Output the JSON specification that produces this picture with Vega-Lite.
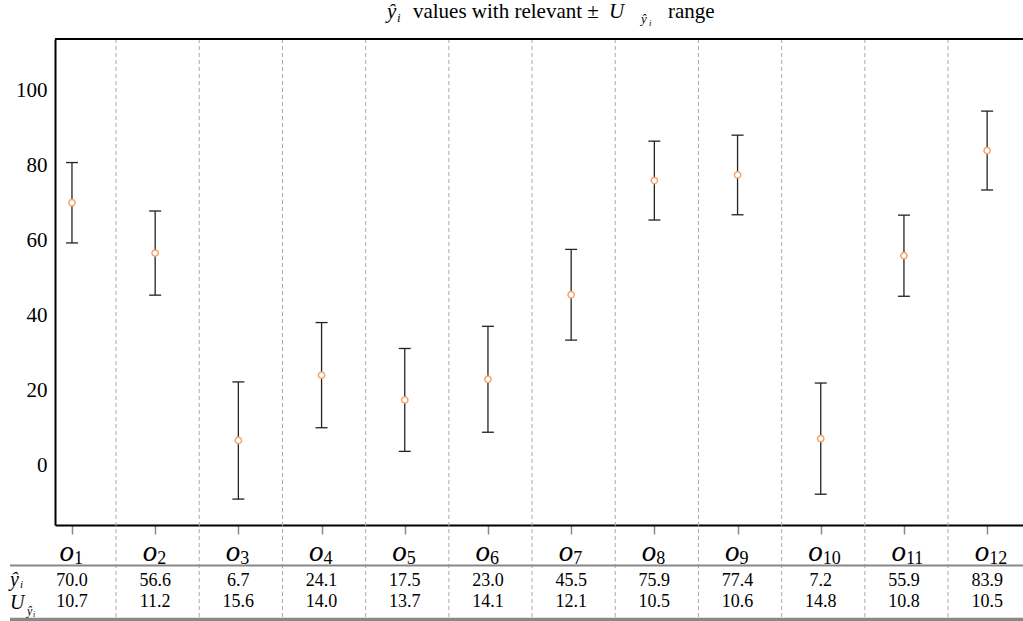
{
  "$schema": "https://vega.github.io/schema/vega-lite/v6.json",
  "width": 968,
  "height": 486,
  "autosize": {"type": "none"},
  "padding": {"left": 55, "top": 39, "right": 0, "bottom": 96},
  "background": "white",
  "config": {
    "view": {"stroke": null},
    "font": "Liberation Serif",
    "text": {"font": "Liberation Serif", "color": "black", "clip": false}
  },
  "data": {
    "values": [
      {"i": 1, "yhat": 70.0, "U": 10.7, "lo": 59.3, "hi": 80.7},
      {"i": 2, "yhat": 56.6, "U": 11.2, "lo": 45.4, "hi": 67.8},
      {"i": 3, "yhat": 6.7, "U": 15.6, "lo": -8.9, "hi": 22.3},
      {"i": 4, "yhat": 24.1, "U": 14.0, "lo": 10.1, "hi": 38.1},
      {"i": 5, "yhat": 17.5, "U": 13.7, "lo": 3.8, "hi": 31.2},
      {"i": 6, "yhat": 23.0, "U": 14.1, "lo": 8.9, "hi": 37.1},
      {"i": 7, "yhat": 45.5, "U": 12.1, "lo": 33.4, "hi": 57.6},
      {"i": 8, "yhat": 75.9, "U": 10.5, "lo": 65.4, "hi": 86.4},
      {"i": 9, "yhat": 77.4, "U": 10.6, "lo": 66.8, "hi": 88.0},
      {"i": 10, "yhat": 7.2, "U": 14.8, "lo": -7.6, "hi": 22.0},
      {"i": 11, "yhat": 55.9, "U": 10.8, "lo": 45.1, "hi": 66.7},
      {"i": 12, "yhat": 83.9, "U": 10.5, "lo": 73.4, "hi": 94.4}
    ]
  },
  "layer": [
    {
      "data": {"values": [{"b": 1.53}, {"b": 2.53}, {"b": 3.53}, {"b": 4.53}, {"b": 5.53}, {"b": 6.53}, {"b": 7.53}, {"b": 8.53}, {"b": 9.53}, {"b": 10.53}, {"b": 11.53}]},
      "mark": {"type": "rule", "color": "#aaaaaa", "strokeWidth": 1, "strokeDash": [4, 3], "clip": false},
      "encoding": {
        "x": {"field": "b", "type": "quantitative",
          "scale": {"domain": [0.796, 12.431], "nice": false, "zero": false},
          "axis": {"values": [1,2,3,4,5,6,7,8,9,10,11,12], "labels": false, "title": null, "grid": false,
            "domainColor": "black", "domainWidth": 2, "tickColor": "#888888", "tickSize": 9, "tickWidth": 1.5}},
        "y": {"datum": 113.6, "type": "quantitative",
          "scale": {"domain": [-15.8, 113.6], "nice": false, "zero": false},
          "axis": {"values": [0, 20, 40, 60, 80, 100], "title": null, "ticks": false, "labelFontSize": 21,
            "labelFont": "Liberation Serif", "labelColor": "black", "labelPadding": 8,
            "gridColor": "#dddddd", "gridWidth": 1, "domainColor": "black", "domainWidth": 2}},
        "y2": {"datum": -40.8}
      }
    },
    {
      "data": {"values": [{}]},
      "mark": {"type": "rule", "color": "black", "strokeWidth": 2, "clip": false},
      "encoding": {"y": {"datum": 113.6, "type": "quantitative"}}
    },
    {
      "data": {"values": [{}]},
      "mark": {"type": "rule", "color": "#888888", "strokeWidth": 2, "clip": false},
      "encoding": {"x": {"datum": 0.255, "type": "quantitative"}, "x2": {"datum": 12.431}, "y": {"datum": -26.6, "type": "quantitative"}}
    },
    {
      "data": {"values": [{}]},
      "mark": {"type": "rule", "color": "#888888", "strokeWidth": 4, "clip": false},
      "encoding": {"x": {"datum": 0.255, "type": "quantitative"}, "x2": {"datum": 12.431}, "y": {"datum": -41.0, "type": "quantitative"}}
    },
    {
      "mark": {"type": "rule", "color": "#222222", "strokeWidth": 1.3},
      "encoding": {
        "x": {"field": "i", "type": "quantitative"},
        "y": {"field": "lo", "type": "quantitative"},
        "y2": {"field": "hi"}
      }
    },
    {
      "mark": {"type": "tick", "color": "#222222", "orient": "horizontal", "size": 12, "thickness": 1.3, "opacity": 1},
      "encoding": {
        "x": {"field": "i", "type": "quantitative"},
        "y": {"field": "lo", "type": "quantitative"}
      }
    },
    {
      "mark": {"type": "tick", "color": "#222222", "orient": "horizontal", "size": 12, "thickness": 1.3, "opacity": 1},
      "encoding": {
        "x": {"field": "i", "type": "quantitative"},
        "y": {"field": "hi", "type": "quantitative"}
      }
    },
    {
      "mark": {"type": "point", "shape": "circle", "filled": false, "fill": "white", "fillOpacity": 1, "stroke": "#f4a46c", "strokeWidth": 1.5, "size": 40, "opacity": 1},
      "encoding": {
        "x": {"field": "i", "type": "quantitative"},
        "y": {"field": "yhat", "type": "quantitative"}
      }
    },
    {
      "mark": {"type": "text", "text": "o", "fontStyle": "italic", "fontWeight": "normal", "fontSize": 29, "align": "right", "baseline": "alphabetic", "dx": 2, "clip": false},
      "encoding": {
        "x": {"field": "i", "type": "quantitative"},
        "y": {"datum": -25.4, "type": "quantitative"}
      }
    },
    {
      "mark": {"type": "text", "fontSize": 18, "fontWeight": "normal", "align": "left", "baseline": "alphabetic", "dx": 2, "dy": 3, "clip": false},
      "encoding": {
        "x": {"field": "i", "type": "quantitative"},
        "y": {"datum": -25.4, "type": "quantitative"},
        "text": {"field": "i", "type": "nominal"}
      }
    },
    {
      "mark": {"type": "text", "fontSize": 18, "align": "center", "baseline": "middle", "clip": false},
      "encoding": {
        "x": {"field": "i", "type": "quantitative"},
        "y": {"datum": -30.7, "type": "quantitative"},
        "text": {"field": "yhat", "type": "quantitative", "format": ".1f"}
      }
    },
    {
      "mark": {"type": "text", "fontSize": 18, "align": "center", "baseline": "middle", "clip": false},
      "encoding": {
        "x": {"field": "i", "type": "quantitative"},
        "y": {"datum": -36.4, "type": "quantitative"},
        "text": {"field": "U", "type": "quantitative", "format": ".1f"}
      }
    },
    {
      "data": {"values": [{}]},
      "mark": {"type": "text", "text": "ŷ", "fontStyle": "italic", "fontSize": 20, "align": "left", "baseline": "alphabetic", "dy": 5, "clip": false},
      "encoding": {"x": {"datum": 0.255, "type": "quantitative"}, "y": {"datum": -30.7, "type": "quantitative"}}
    },
    {
      "data": {"values": [{}]},
      "mark": {"type": "text", "text": "i", "fontStyle": "italic", "fontSize": 11, "align": "left", "baseline": "alphabetic", "dx": 10, "dy": 7, "clip": false},
      "encoding": {"x": {"datum": 0.255, "type": "quantitative"}, "y": {"datum": -30.7, "type": "quantitative"}}
    },
    {
      "data": {"values": [{}]},
      "mark": {"type": "text", "text": "U", "fontStyle": "italic", "fontSize": 20, "align": "left", "baseline": "alphabetic", "dy": 7, "clip": false},
      "encoding": {"x": {"datum": 0.255, "type": "quantitative"}, "y": {"datum": -36.4, "type": "quantitative"}}
    },
    {
      "data": {"values": [{}]},
      "mark": {"type": "text", "text": "ŷ", "fontStyle": "italic", "fontSize": 12, "align": "left", "baseline": "alphabetic", "dx": 17, "dy": 13, "clip": false},
      "encoding": {"x": {"datum": 0.255, "type": "quantitative"}, "y": {"datum": -36.4, "type": "quantitative"}}
    },
    {
      "data": {"values": [{}]},
      "mark": {"type": "text", "text": "i", "fontStyle": "italic", "fontSize": 8, "align": "left", "baseline": "alphabetic", "dx": 23, "dy": 15, "clip": false},
      "encoding": {"x": {"datum": 0.255, "type": "quantitative"}, "y": {"datum": -36.4, "type": "quantitative"}}
    },
    {
      "data": {"values": [{}]},
      "mark": {"type": "text", "text": "ŷ", "fontStyle": "italic", "fontSize": 21, "align": "left", "baseline": "alphabetic", "dx": 0, "clip": false},
      "encoding": {"x": {"datum": 4.786, "type": "quantitative"}, "y": {"datum": 119.2, "type": "quantitative"}}
    },
    {
      "data": {"values": [{}]},
      "mark": {"type": "text", "text": "i", "fontStyle": "italic", "fontSize": 13, "align": "left", "baseline": "alphabetic", "dx": 10, "dy": 4, "clip": false},
      "encoding": {"x": {"datum": 4.786, "type": "quantitative"}, "y": {"datum": 119.2, "type": "quantitative"}}
    },
    {
      "data": {"values": [{}]},
      "mark": {"type": "text", "text": "values with  relevant ±", "fontSize": 21, "align": "left", "baseline": "alphabetic", "dx": 26, "clip": false},
      "encoding": {"x": {"datum": 4.786, "type": "quantitative"}, "y": {"datum": 119.2, "type": "quantitative"}}
    },
    {
      "data": {"values": [{}]},
      "mark": {"type": "text", "text": "U", "fontStyle": "italic", "fontSize": 21, "align": "left", "baseline": "alphabetic", "dx": 222, "clip": false},
      "encoding": {"x": {"datum": 4.786, "type": "quantitative"}, "y": {"datum": 119.2, "type": "quantitative"}}
    },
    {
      "data": {"values": [{}]},
      "mark": {"type": "text", "text": "ŷ", "fontStyle": "italic", "fontSize": 13, "align": "left", "baseline": "alphabetic", "dx": 254, "dy": 5, "clip": false},
      "encoding": {"x": {"datum": 4.786, "type": "quantitative"}, "y": {"datum": 119.2, "type": "quantitative"}}
    },
    {
      "data": {"values": [{}]},
      "mark": {"type": "text", "text": "i", "fontStyle": "italic", "fontSize": 9, "align": "left", "baseline": "alphabetic", "dx": 262, "dy": 8, "clip": false},
      "encoding": {"x": {"datum": 4.786, "type": "quantitative"}, "y": {"datum": 119.2, "type": "quantitative"}}
    },
    {
      "data": {"values": [{}]},
      "mark": {"type": "text", "text": "range", "fontSize": 21, "align": "left", "baseline": "alphabetic", "dx": 281, "clip": false},
      "encoding": {"x": {"datum": 4.786, "type": "quantitative"}, "y": {"datum": 119.2, "type": "quantitative"}}
    }
  ]
}
